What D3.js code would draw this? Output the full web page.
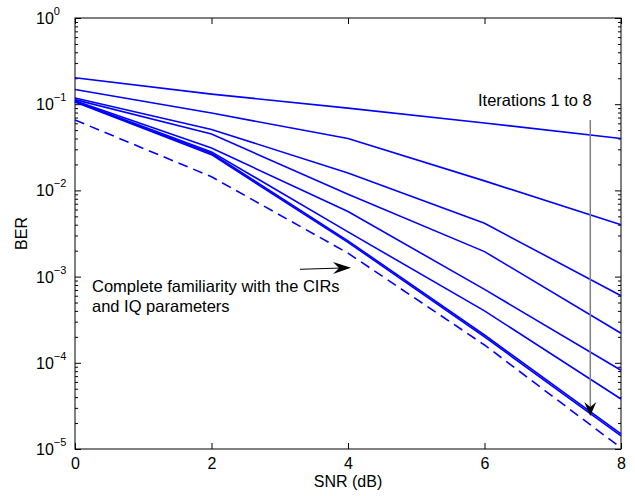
<!DOCTYPE html>
<html>
<head>
<meta charset="utf-8">
<script src="https://cdn.jsdelivr.net/npm/d3@7"></script>
<style>
  body { margin: 0; background: #fff; }
  svg { font-family: "Liberation Sans", Arial, Helvetica, sans-serif; }
  .axis path { display: none; }
  .axis line { stroke: #000; stroke-width: 1; }
</style>
</head>
<body>
<svg id="chart"></svg>
<script>
// SNR points and BER per decoder iteration
var SNR = [0, 2, 4, 6, 8];
var ITER_1 = [0.203, 0.131, 0.090, 0.0605, 0.040];
var ITER_2 = [0.148, 0.079, 0.040, 0.0129, 0.0040];
var ITER_3 = [0.118, 0.051, 0.0159, 0.00415, 0.00060];
var ITER_4 = [0.113, 0.045, 0.0090, 0.00195, 0.00022];
var ITER_5 = [0.110, 0.031, 0.0057, 0.00071, 8.2e-5];
var ITER_6 = [0.108, 0.028, 0.0033, 0.00040, 3.8e-5];
var ITER_7 = [0.107, 0.027, 0.0026, 0.00021, 1.5e-5];
var ITER_8 = [0.106, 0.026, 0.0025, 0.00020, 1.42e-5];
var KNOWN_CIR = [0.0656, 0.0144, 0.00187, 0.000161, 1.03e-5];

var X_TICKS = [0, 2, 4, 6, 8];
var Y_EXPONENTS = [0, -1, -2, -3, -4, -5];

var canvas_w = 635, canvas_h = 496;
var plot_l = 75, plot_r = 621, plot_t = 18, plot_b = 449;

var svg = d3.select("#chart").attr("width", canvas_w).attr("height", canvas_h);

var x = d3.scaleLinear().domain([0, 8]).range([plot_l, plot_r]);
var y = d3.scaleLog().domain([1e-5, 1]).range([plot_b, plot_t]);

var major = Y_EXPONENTS.map(function(e) { return Math.pow(10, e); });
var minor = [];
Y_EXPONENTS.slice(1).forEach(function(e) {
    for (var m = 2; m <= 9; m++) minor.push(m * Math.pow(10, e));
});

// ticks, all pointing inward
svg.append("g").attr("class", "axis").attr("transform", "translate(0," + plot_b + ")")
    .call(d3.axisBottom(x).tickValues(X_TICKS).tickSizeInner(-6).tickSizeOuter(0).tickPadding(9).tickFormat(d3.format("d")))
    .selectAll("text").attr("font-size", 16).attr("fill", "#000").attr("font-family", null);
svg.append("g").attr("class", "axis").attr("transform", "translate(0," + plot_t + ")")
    .call(d3.axisTop(x).tickValues(X_TICKS).tickSizeInner(-6).tickSizeOuter(0).tickFormat(""));
svg.append("g").attr("class", "axis").attr("transform", "translate(" + plot_l + ",0)")
    .call(d3.axisLeft(y).tickValues(major).tickSizeInner(-6).tickSizeOuter(0).tickFormat(""));
svg.append("g").attr("class", "axis").attr("transform", "translate(" + plot_l + ",0)")
    .call(d3.axisLeft(y).tickValues(minor).tickSizeInner(-3).tickSizeOuter(0).tickFormat(""));
svg.append("g").attr("class", "axis").attr("transform", "translate(" + plot_r + ",0)")
    .call(d3.axisRight(y).tickValues(major).tickSizeInner(-6).tickSizeOuter(0).tickFormat(""));
svg.append("g").attr("class", "axis").attr("transform", "translate(" + plot_r + ",0)")
    .call(d3.axisRight(y).tickValues(minor).tickSizeInner(-3).tickSizeOuter(0).tickFormat(""));

// y tick labels as 10^e
var ylab = svg.append("g").selectAll("text").data(Y_EXPONENTS).enter().append("text")
    .attr("x", 36).attr("y", function(e) { return y(Math.pow(10, e)) + 6; })
    .attr("font-size", 16).attr("fill", "#000");
ylab.append("tspan").text("10");
ylab.append("tspan").attr("font-size", 11).attr("dy", -9)
    .text(function(e) { return e === 0 ? "0" : "\u2212" + (-e); });

svg.append("rect").attr("x", plot_l).attr("y", plot_t)
    .attr("width", plot_r - plot_l).attr("height", plot_b - plot_t)
    .attr("fill", "none").attr("stroke", "#000").attr("stroke-width", 1);

// curves
var line = d3.line().x(function(d, i) { return x(SNR[i]); }).y(function(d) { return y(d); });
var iterations = [ITER_1, ITER_2, ITER_3, ITER_4, ITER_5, ITER_6, ITER_7, ITER_8];
svg.append("g").selectAll("path").data(iterations).enter().append("path")
    .attr("d", line).attr("fill", "none").attr("stroke", "#0000ff").attr("stroke-width", 1.6);
svg.append("path").datum(KNOWN_CIR).attr("d", line)
    .attr("fill", "none").attr("stroke", "#0000ff").attr("stroke-width", 1.6)
    .attr("stroke-dasharray", "10,6");

// axis titles
svg.append("text").attr("x", (plot_l + plot_r) / 2).attr("y", 487).attr("text-anchor", "middle")
    .attr("font-size", 16).text("SNR (dB)");
svg.append("text").attr("transform", "translate(27," + ((plot_t + plot_b) / 2) + ") rotate(-90)")
    .attr("text-anchor", "middle").attr("font-size", 16).text("BER");

// annotation: iterations arrow
var ax = x(7.55);
svg.append("text").attr("x", 478).attr("y", 106).attr("font-size", 16.5).text("Iterations 1 to 8");
svg.append("line").attr("x1", ax).attr("x2", ax).attr("y1", 120).attr("y2", 410)
    .attr("stroke", "#808080").attr("stroke-width", 1.5);
svg.append("path").attr("d", "M" + ax + ",416 L" + (ax - 6) + ",402 L" + ax + ",407 L" + (ax + 6) + ",402 Z")
    .attr("fill", "#000");

// annotation: complete familiarity arrow
svg.append("text").attr("x", 92).attr("y", 292).attr("font-size", 16.5).text("Complete familiarity with the CIRs");
svg.append("text").attr("x", 92).attr("y", 312).attr("font-size", 16.5).text("and IQ parameters");
svg.append("line").attr("x1", 300).attr("y1", 269.3).attr("x2", 345).attr("y2", 267.9)
    .attr("stroke", "#000").attr("stroke-width", 1);
svg.append("path").attr("d", "M351,267.7 L333,262 L339,267.9 L333,274 Z").attr("fill", "#000");
</script>
</body>
</html>
